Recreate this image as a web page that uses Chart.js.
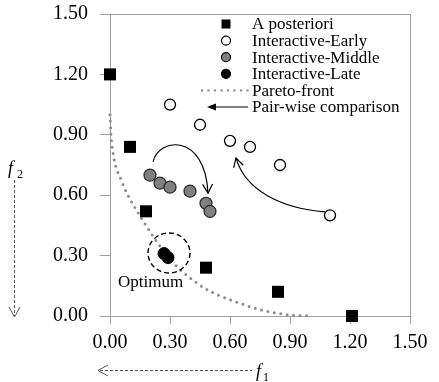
<!DOCTYPE html>
<html>
<head>
<meta charset="utf-8">
<script src="https://cdn.jsdelivr.net/npm/chart.js@4.4.1/dist/chart.umd.min.js"></script>
<style>
  html, body { margin: 0; padding: 0; background: #fff; }
  #wrap { width: 439px; height: 382px; position: relative; }
</style>
</head>
<body>
<div id="wrap"><canvas id="paretoChart"></canvas></div>
<script>
// tick values shared by both axes
const tickValues = [0, 0.3, 0.6, 0.9, 1.2, 1.5];

// [f1, f2] pairs
const aPosteriori = [[0, 1.2], [0.1, 0.84], [0.18, 0.52], [0.48, 0.24], [0.84, 0.12], [1.21, 0]];
const earlyPts = [[0.3, 1.05], [0.45, 0.95], [0.6, 0.87], [0.7, 0.84], [0.85, 0.75], [1.1, 0.5]];
const middlePts = [[0.2, 0.7], [0.25, 0.66], [0.3, 0.64], [0.4, 0.62], [0.48, 0.56], [0.5, 0.52]];
const latePts = [[0.27, 0.31], [0.29, 0.29]];
const paretoFront = [[0, 1.0], [0.005, 0.9], [0.015, 0.81], [0.03, 0.74], [0.05, 0.69], [0.075, 0.63],
  [0.1, 0.58], [0.13, 0.53], [0.16, 0.48], [0.2, 0.42], [0.24, 0.36], [0.28, 0.31], [0.33, 0.25],
  [0.4, 0.19], [0.47, 0.14], [0.55, 0.1], [0.63, 0.07], [0.72, 0.04], [0.8, 0.02], [0.9, 0.005], [1.0, 0]];

// curved comparison arrows (bezier points in data units) and the optimum marker
const arrowMiddle = [[0.215, 0.765], [0.24, 0.885], [0.475, 0.915], [0.49, 0.61]];
const arrowEarly = [[1.075, 0.517], [0.85, 0.537], [0.675, 0.626], [0.63, 0.785]];
const optimumCenter = [0.295, 0.313];
const optimumLabel = [0.04, 0.164];

const toXY = arr => arr.map(p => ({x: p[0], y: p[1]}));
const serif = "'Liberation Serif', 'Times New Roman', serif";

function arrowHead(ctx, tx, ty, fx, fy, len, half, filled) {
    const a = Math.atan2(ty - fy, tx - fx);
    const bx = tx - len * Math.cos(a), by = ty - len * Math.sin(a);
    const nx = -Math.sin(a) * half, ny = Math.cos(a) * half;
    ctx.beginPath();
    ctx.moveTo(bx + nx, by + ny);
    ctx.lineTo(tx, ty);
    ctx.lineTo(bx - nx, by - ny);
    if (filled) { ctx.closePath(); ctx.fill(); } else { ctx.stroke(); }
}

const overlay = {
    id: "overlay",
    afterDraw(chart) {
        const ctx = chart.ctx;
        const area = chart.chartArea;
        const px = v => chart.scales.x.getPixelForValue(v);
        const py = v => chart.scales.y.getPixelForValue(v);
        ctx.save();

        // top and right frame
        ctx.strokeStyle = "#a0a0a0";
        ctx.lineWidth = 1;
        ctx.beginPath();
        ctx.moveTo(area.left, Math.round(area.top) + 0.5);
        ctx.lineTo(Math.round(area.right) + 0.5, Math.round(area.top) + 0.5);
        ctx.lineTo(Math.round(area.right) + 0.5, area.bottom);
        ctx.stroke();

        // curved arrows
        ctx.strokeStyle = "#000";
        ctx.lineWidth = 1.2;
        [arrowMiddle, arrowEarly].forEach(b => {
            const p = b.map(q => [px(q[0]), py(q[1])]);
            ctx.beginPath();
            ctx.moveTo(p[0][0], p[0][1]);
            ctx.bezierCurveTo(p[1][0], p[1][1], p[2][0], p[2][1], p[3][0], p[3][1]);
            ctx.stroke();
            arrowHead(ctx, p[3][0], p[3][1], p[2][0], p[2][1], 9, 5, false);
        });

        // dashed ring round the optimum
        ctx.setLineDash([5, 3]);
        ctx.lineWidth = 1.4;
        ctx.beginPath();
        ctx.ellipse(px(optimumCenter[0]), py(optimumCenter[1]), 21, 20, 0, 0, Math.PI * 2);
        ctx.stroke();
        ctx.setLineDash([]);

        ctx.fillStyle = "#000";
        ctx.font = "17px " + serif;
        ctx.textBaseline = "middle";
        ctx.textAlign = "left";
        ctx.fillText("Optimum", px(optimumLabel[0]), py(optimumLabel[1]));

        // legend inside the plot
        const lx = area.left + 116, tx = area.left + 142;
        const rowY = i => area.top + 10 + 16.6 * i;
        const ds = chart.data.datasets;
        ctx.lineWidth = 1.2;
        for (let i = 0; i < 6; i++) {
            const y = rowY(i);
            if (i === 0) {
                ctx.fillStyle = "#000";
                ctx.fillRect(lx - 4.5, y - 4.5, 9, 9);
            } else if (i <= 3) {
                ctx.beginPath();
                ctx.arc(lx, y, 4.5, 0, Math.PI * 2);
                ctx.fillStyle = ds[i].backgroundColor;
                ctx.fill();
                ctx.strokeStyle = "#000";
                ctx.stroke();
            } else if (i === 4) {
                ctx.fillStyle = "#8c8c8c";
                for (let x = lx - 24; x <= lx + 22; x += 6.5) {
                    ctx.beginPath();
                    ctx.arc(x, y, 1.2, 0, Math.PI * 2);
                    ctx.fill();
                }
            } else {
                ctx.strokeStyle = "#000";
                ctx.fillStyle = "#000";
                ctx.beginPath();
                ctx.moveTo(lx - 14, y);
                ctx.lineTo(lx + 22, y);
                ctx.stroke();
                arrowHead(ctx, lx - 19, y, lx, y, 9, 3.5, true);
            }
            ctx.fillStyle = "#000";
            ctx.fillText(i < 5 ? ds[i].label : "Pair-wise comparison", tx, y + 1);
        }

        // axis titles with dashed direction arrows
        ctx.strokeStyle = "#555";
        ctx.lineWidth = 1;
        ctx.setLineDash([3, 2]);
        ctx.beginPath();
        ctx.moveTo(14.5, 180);
        ctx.lineTo(14.5, 316);
        ctx.moveTo(100, 370.5);
        ctx.lineTo(252, 370.5);
        ctx.stroke();
        ctx.setLineDash([]);
        arrowHead(ctx, 14.5, 317, 14.5, 300, 10, 5.5, false);
        arrowHead(ctx, 98, 370.5, 120, 370.5, 10, 5.5, false);

        ctx.fillStyle = "#000";
        ctx.textBaseline = "alphabetic";
        ctx.font = "italic 18px " + serif;
        ctx.fillText("f", 8, 174);
        ctx.fillText("f", 256, 377);
        ctx.font = "12px " + serif;
        ctx.fillText("2", 17, 178);
        ctx.fillText("1", 263, 381);
        ctx.restore();
    }
};

const ctx = document.getElementById("paretoChart").getContext("2d");

const myChart = new Chart(ctx, {
    type: "scatter",
    data: {
        datasets: [
            {
                label: "A posteriori",
                data: toXY(aPosteriori),
                pointStyle: "rect",
                pointRadius: 8.5,
                backgroundColor: "#000",
                borderColor: "#000",
                borderWidth: 0,
                clip: false,
            },
            {
                label: "Interactive-Early",
                data: toXY(earlyPts),
                pointRadius: 5.5,
                backgroundColor: "#fff",
                borderColor: "#000",
                borderWidth: 1.3,
                clip: false,
            },
            {
                label: "Interactive-Middle",
                data: toXY(middlePts),
                pointRadius: 6,
                backgroundColor: "#808080",
                borderColor: "#2a2a2a",
                borderWidth: 1.2,
                clip: false,
            },
            {
                label: "Interactive-Late",
                data: toXY(latePts),
                pointRadius: 6,
                backgroundColor: "#000",
                borderColor: "#000",
                borderWidth: 1,
                clip: false,
            },
            {
                label: "Pareto-front",
                data: toXY(paretoFront),
                showLine: true,
                pointRadius: 0,
                borderColor: "#8c8c8c",
                borderWidth: 3,
                borderDash: [0, 6.5],
                borderCapStyle: "round",
                cubicInterpolationMode: "monotone",
                clip: false,
            },
        ],
    },
    options: {
        responsive: true,
        maintainAspectRatio: false,
        animation: false,
        layout: { padding: { top: 14, right: 29, left: 0, bottom: 0 } },
        plugins: {
            legend: { display: false },
            tooltip: { enabled: false },
        },
        scales: {
            x: {
                type: "linear",
                min: 0,
                max: 1.5,
                afterFit: s => { s.height = 66; s.paddingLeft = 0; s.paddingRight = 0; },
                afterBuildTicks: s => { s.ticks = tickValues.map(v => ({value: v})); },
                grid: { drawOnChartArea: false, drawTicks: true, tickLength: 8, color: "#a0a0a0" },
                border: { color: "#a0a0a0", width: 1 },
                ticks: {
                    color: "#000",
                    padding: 7,
                    maxRotation: 0,
                    font: { family: serif, size: 20 },
                    callback: v => v.toFixed(2),
                },
            },
            y: {
                type: "linear",
                min: 0,
                max: 1.5,
                afterFit: s => { s.width = 110; s.paddingTop = 0; s.paddingBottom = 0; },
                afterBuildTicks: s => { s.ticks = tickValues.map(v => ({value: v})); },
                grid: { drawOnChartArea: false, drawTicks: true, tickLength: 10, color: "#a0a0a0" },
                border: { color: "#a0a0a0", width: 1 },
                ticks: {
                    color: "#000",
                    padding: 12,
                    font: { family: serif, size: 20 },
                    callback: v => v.toFixed(2),
                },
            },
        },
    },
    plugins: [overlay],
});
</script>
</body>
</html>
